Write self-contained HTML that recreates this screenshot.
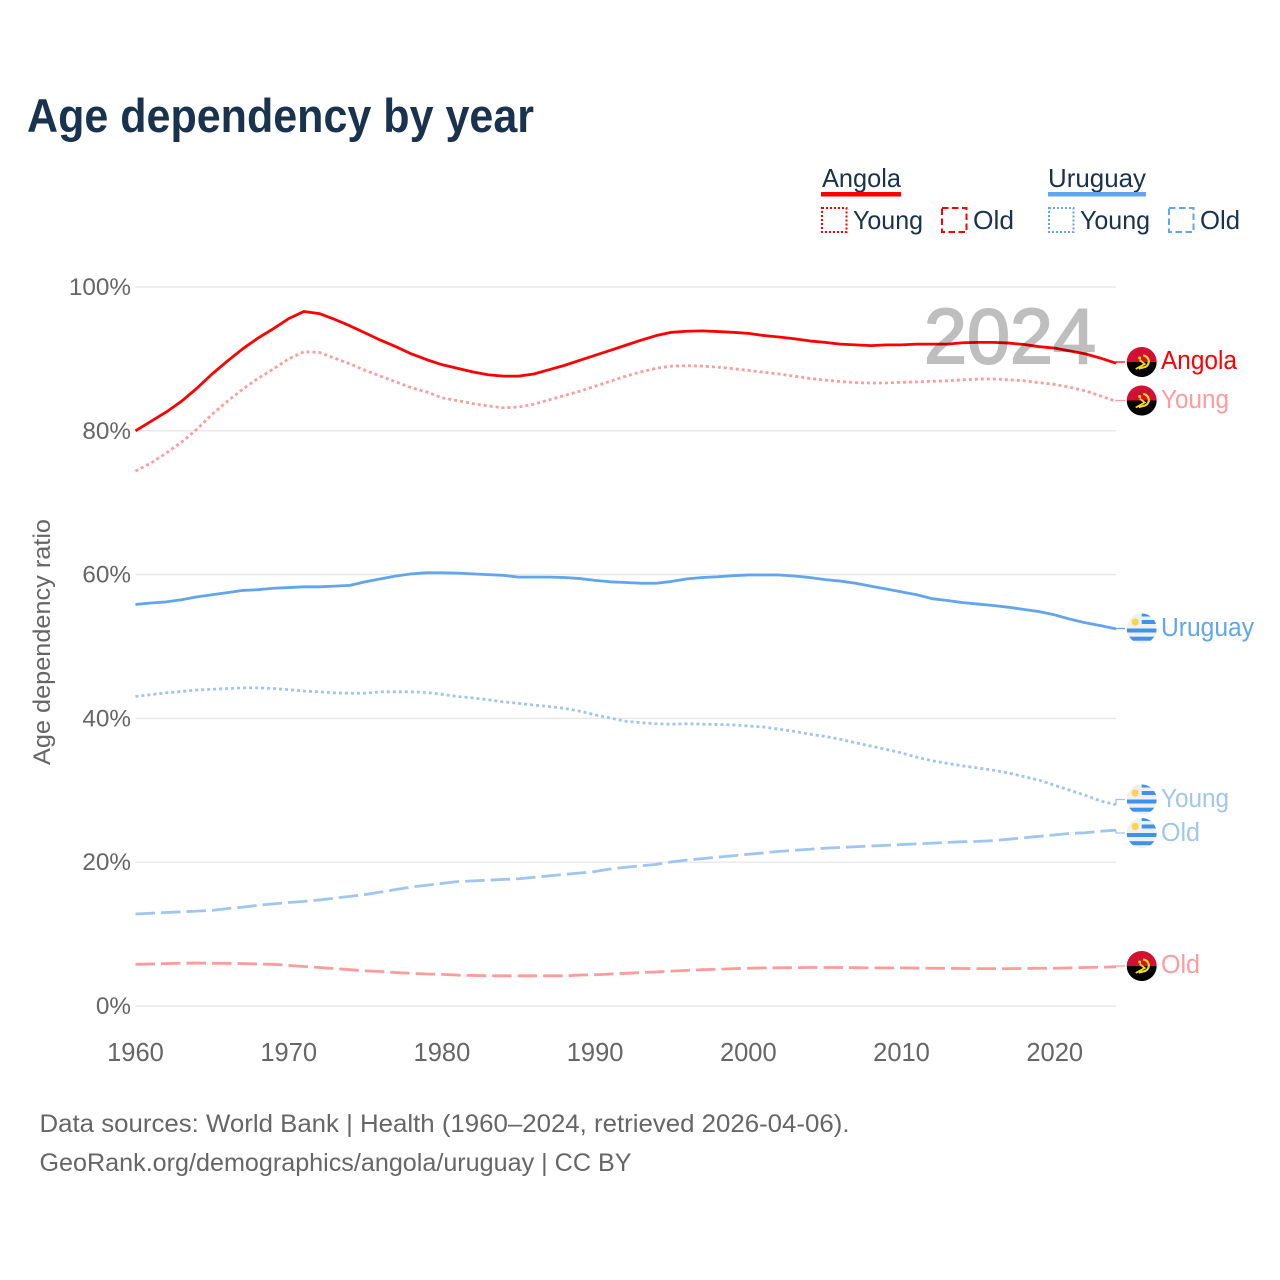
<!DOCTYPE html>
<html lang="en">
<head>
<meta charset="utf-8">
<title>Age dependency by year</title>
<style>
html,body{margin:0;padding:0;background:#fff;}
svg{display:block;font-family:"Liberation Sans",sans-serif;}
</style>
</head>
<body>
<svg id="chart" width="1280" height="1280" viewBox="0 0 1280 1280" xmlns="http://www.w3.org/2000/svg">
  <defs>
    <clipPath id="flag-clip"><circle cx="0" cy="0" r="15"/></clipPath>
    <g id="flag-angola" clip-path="url(#flag-clip)">
      <rect x="-15" y="-15" width="30" height="15" fill="#d21034"/>
      <rect x="-15" y="0" width="30" height="15" fill="#000"/>
      <path d="M1.5,-6.5 A6,6 0 0 1 3.5,5 L-3,6.5" fill="none" stroke="#f9d616" stroke-width="2.2"/>
      <path d="M-6,7 L3,2 L-2,-2" fill="none" stroke="#f9d616" stroke-width="1.8"/>
      <circle cx="-2" cy="-4" r="1.5" fill="#f9d616"/>
    </g>
    <g id="flag-uruguay" clip-path="url(#flag-clip)">
      <rect x="-15" y="-15" width="30" height="30" fill="#f0f0f0"/>
      <rect x="0" y="-15" width="15" height="3" fill="#3f92ec"/>
      <rect x="0" y="-8.5" width="15" height="4" fill="#3f92ec"/>
      <rect x="-15" y="0" width="30" height="4" fill="#3f92ec"/>
      <rect x="-15" y="8.2" width="30" height="4" fill="#3f92ec"/>
      <circle cx="-6.5" cy="-6.5" r="3.6" fill="#fcd34a"/>
    </g>
  </defs>

  <rect x="0" y="0" width="1280" height="1280" fill="#fff"/>

  <text x="27" y="132" font-size="47" font-weight="700" fill="#19324f" textLength="507" lengthAdjust="spacingAndGlyphs">Age dependency by year</text>

  <g font-size="26" fill="#19324f">
    <text x="822" y="187" textLength="79" lengthAdjust="spacingAndGlyphs">Angola</text>
    <rect x="821" y="192" width="80" height="4.5" fill="#ff0000"/>
    <rect x="822" y="208" width="24.5" height="24" fill="none" stroke="#ff0000" stroke-width="2" stroke-dasharray="2 2"/>
    <text x="853" y="229" textLength="70" lengthAdjust="spacingAndGlyphs">Young</text>
    <rect x="942" y="208" width="24.5" height="24" fill="none" stroke="#ff0000" stroke-width="2" stroke-dasharray="6.5 3.5"/>
    <text x="973" y="229" textLength="41" lengthAdjust="spacingAndGlyphs">Old</text>
    <text x="1048" y="187" textLength="98" lengthAdjust="spacingAndGlyphs">Uruguay</text>
    <rect x="1048" y="192" width="98" height="4.5" fill="#60a5ee"/>
    <rect x="1049" y="208" width="24.5" height="24" fill="none" stroke="#60a5ee" stroke-width="2" stroke-dasharray="2 2"/>
    <text x="1080" y="229" textLength="70" lengthAdjust="spacingAndGlyphs">Young</text>
    <rect x="1169" y="208" width="24.5" height="24" fill="none" stroke="#60a5ee" stroke-width="2" stroke-dasharray="6.5 3.5"/>
    <text x="1200" y="229" textLength="40" lengthAdjust="spacingAndGlyphs">Old</text>
  </g>

  <g id="grid"></g>
  <g id="y-ticks" font-size="24.3" fill="#666"></g>
  <g id="x-ticks" font-size="25.5" fill="#666"></g>
  <text transform="translate(50,642) rotate(-90)" text-anchor="middle" font-size="24.5" fill="#666" textLength="246" lengthAdjust="spacingAndGlyphs">Age dependency ratio</text>

  <g id="series"></g>

  <text x="924" y="363" font-size="78" font-weight="400" fill="#000" stroke="#000" stroke-width="2" opacity="0.25" textLength="172" lengthAdjust="spacingAndGlyphs">2024</text>

  <g id="end-labels" font-size="25.5"></g>

  <g font-size="25" fill="#666">
    <text x="39.5" y="1132" textLength="810" lengthAdjust="spacingAndGlyphs">Data sources: World Bank | Health (1960–2024, retrieved 2026-04-06).</text>
    <text x="39.5" y="1171" textLength="592" lengthAdjust="spacingAndGlyphs">GeoRank.org/demographics/angola/uruguay | CC BY</text>
  </g>
</svg>
<script>
const startYear = 1960;
const yTickValues = [0, 20, 40, 60, 80, 100];
const yTickLabels = ["0%", "20%", "40%", "60%", "80%", "100%"];
const xTickValues = [1960, 1970, 1980, 1990, 2000, 2010, 2020];
const xTickLabels = ["1960", "1970", "1980", "1990", "2000", "2010", "2020"];

const angolaTotal = [
80.0,81.3,82.6,84.1,85.9,87.9,89.7,91.4,92.9,94.2,
95.6,96.6,96.3,95.5,94.6,93.6,92.6,91.7,90.7,89.9,
89.2,88.7,88.2,87.8,87.6,87.6,87.9,88.5,89.1,89.8,
90.5,91.2,91.9,92.6,93.25,93.7,93.85,93.9,93.8,93.7,
93.55,93.25,93.05,92.8,92.5,92.3,92.05,91.95,91.85,91.95,
91.95,92.05,92.05,92.05,92.25,92.3,92.3,92.2,92.0,91.7,
91.5,91.1,90.7,90.1,89.4];
const angolaYoung = [
74.4,75.5,76.9,78.4,80.2,82.3,84.1,85.8,87.3,88.6,
90.0,91.0,90.9,90.1,89.3,88.4,87.6,86.8,86.0,85.4,
84.6,84.2,83.8,83.45,83.2,83.3,83.7,84.3,84.9,85.5,
86.2,86.9,87.6,88.2,88.7,89.0,89.05,89.0,88.85,88.65,
88.4,88.15,87.9,87.6,87.3,87.05,86.85,86.7,86.65,86.65,
86.75,86.8,86.9,86.95,87.1,87.2,87.2,87.1,86.95,86.7,
86.45,86.05,85.55,84.85,84.1];
const angolaOld = [
5.8,5.85,5.9,5.95,5.97,5.95,5.93,5.9,5.85,5.8,
5.65,5.5,5.35,5.2,5.05,4.9,4.8,4.65,4.55,4.45,
4.4,4.3,4.25,4.2,4.2,4.2,4.2,4.2,4.2,4.3,
4.35,4.45,4.55,4.65,4.75,4.85,4.95,5.05,5.1,5.2,
5.25,5.3,5.32,5.33,5.35,5.35,5.35,5.33,5.3,5.3,
5.3,5.28,5.25,5.25,5.22,5.2,5.2,5.2,5.22,5.25,
5.25,5.3,5.35,5.4,5.45];
const uruguayTotal = [
55.85,56.05,56.2,56.5,56.9,57.2,57.5,57.8,57.9,58.1,
58.2,58.3,58.3,58.4,58.5,59.0,59.4,59.8,60.1,60.25,
60.25,60.2,60.1,60.0,59.9,59.65,59.65,59.65,59.6,59.45,
59.2,59.0,58.9,58.8,58.8,59.05,59.4,59.6,59.7,59.85,
59.95,59.95,59.95,59.8,59.6,59.3,59.1,58.8,58.4,58.0,
57.6,57.2,56.65,56.4,56.1,55.9,55.7,55.45,55.15,54.85,
54.4,53.8,53.3,52.9,52.45];
const uruguayYoung = [
43.05,43.3,43.55,43.75,43.95,44.05,44.15,44.25,44.25,44.15,
44.0,43.8,43.7,43.55,43.5,43.5,43.7,43.7,43.7,43.6,
43.35,43.05,42.85,42.6,42.3,42.1,41.85,41.65,41.4,41.0,
40.5,40.05,39.6,39.4,39.25,39.2,39.25,39.2,39.15,39.1,
38.95,38.8,38.5,38.2,37.8,37.5,37.1,36.6,36.15,35.7,
35.2,34.6,34.1,33.75,33.4,33.1,32.8,32.4,31.9,31.4,
30.7,30.0,29.3,28.5,28.0];
const uruguayOld = [
12.8,12.9,13.0,13.1,13.2,13.3,13.55,13.75,14.0,14.2,
14.4,14.55,14.75,15.0,15.25,15.5,15.85,16.2,16.55,16.8,
17.05,17.3,17.4,17.5,17.6,17.7,17.9,18.1,18.3,18.5,
18.7,19.05,19.3,19.5,19.7,20.05,20.3,20.5,20.7,20.9,
21.1,21.3,21.5,21.65,21.8,21.95,22.05,22.15,22.25,22.35,
22.45,22.55,22.65,22.75,22.85,22.9,23.0,23.2,23.4,23.6,
23.8,24.0,24.1,24.3,24.45];

const NS = 'http://www.w3.org/2000/svg';
const plotLeft = 135.5, plotRight = 1116, yearCount = angolaTotal.length - 1;
const plotZero = 1006, plotHundred = 287;
function xScale(year) { return plotLeft + (year - startYear) * (plotRight - plotLeft) / yearCount; }
function yScale(value) { return plotZero + value * (plotHundred - plotZero) / 100; }
function make(tag, parent) {
  const el = document.createElementNS(NS, tag);
  parent.appendChild(el);
  return el;
}

const gridG = document.getElementById('grid');
const yG = document.getElementById('y-ticks');
yTickValues.forEach(function (v, i) {
  const line = make('line', gridG);
  
  
  line.setAttribute('x1', plotLeft);
  line.setAttribute('x2', plotRight);
  line.setAttribute('y1', yScale(v));
  line.setAttribute('y2', yScale(v));
  line.setAttribute('stroke', '#e8e8e8');
  line.setAttribute('stroke-width', '1.4');
  const t = make('text', yG);
  
  
  t.setAttribute('x', 131);
  t.setAttribute('y', yScale(v) + 8);
  t.setAttribute('text-anchor', 'end');
  t.textContent = yTickLabels[i];
});

const xG = document.getElementById('x-ticks');
xTickValues.forEach(function (v, i) {
  const t = make('text', xG);
  
  
  t.setAttribute('x', xScale(v));
  t.setAttribute('y', 1061);
  t.setAttribute('text-anchor', 'middle');
  t.textContent = xTickLabels[i];
});

const seriesList = [
  { id: 'uruguay-old', values: uruguayOld, color: '#9fc5f2', dash: '19.5 6', label: 'Old', labelY: 833, flag: 'uruguay', textY: 841 },
  { id: 'uruguay-young', values: uruguayYoung, color: '#9fc5f2', dash: '3 3', label: 'Young', labelY: 799.5, flag: 'uruguay', textY: 807 },
  { id: 'uruguay-total', values: uruguayTotal, color: '#60a5ee', dash: '', label: 'Uruguay', labelY: 628.5, flag: 'uruguay', textY: 636 },
  { id: 'angola-old', values: angolaOld, color: '#ff9b9b', dash: '19.5 6', label: 'Old', labelY: 966, flag: 'angola', textY: 973 },
  { id: 'angola-young', values: angolaYoung, color: '#ff9b9b', dash: '3 3', label: 'Young', labelY: 400.5, flag: 'angola', textY: 408 },
  { id: 'angola-total', values: angolaTotal, color: '#ff0000', dash: '', label: 'Angola', labelY: 362, flag: 'angola', textY: 369 }
];

const seriesG = document.getElementById('series');
const labelG = document.getElementById('end-labels');
seriesList.forEach(function (s) {
  const d = s.values.map(function (v, i) {
    return (i ? 'L' : 'M') + xScale(startYear + i).toFixed(2) + ',' + yScale(v).toFixed(2);
  }).join(' ');
  const path = make('path', seriesG);
  
  
  path.setAttribute('d', d);
  path.setAttribute('fill', 'none');
  path.setAttribute('stroke', s.color);
  path.setAttribute('stroke-width', '2.8');
  path.setAttribute('stroke-linejoin', 'round');
  if (s.dash) path.setAttribute('stroke-dasharray', s.dash);

  const leader = make('path', seriesG);
  
  
  leader.setAttribute('d', 'M' + plotRight + ',' + yScale(s.values[yearCount]).toFixed(2) + ' V' + s.labelY + ' H1125');
  leader.setAttribute('fill', 'none');
  leader.setAttribute('stroke', s.color);
  leader.setAttribute('stroke-width', '1.3');

  const flag = make('use', labelG);
  
  
  flag.setAttribute('href', '#flag-' + s.flag);
  flag.setAttribute('transform', 'translate(1141.7,' + s.labelY + ')');

  const t = make('text', labelG);
  
  
  t.setAttribute('x', 1161);
  t.setAttribute('y', s.textY);
  t.setAttribute('fill', s.color);
  t.setAttribute('textLength', s.label === 'Angola' ? 76 : s.label === 'Uruguay' ? 93 : s.label === 'Young' ? 68 : 39);
  t.setAttribute('lengthAdjust', 'spacingAndGlyphs');
  t.textContent = s.label;
});
</script>
</body>
</html>
